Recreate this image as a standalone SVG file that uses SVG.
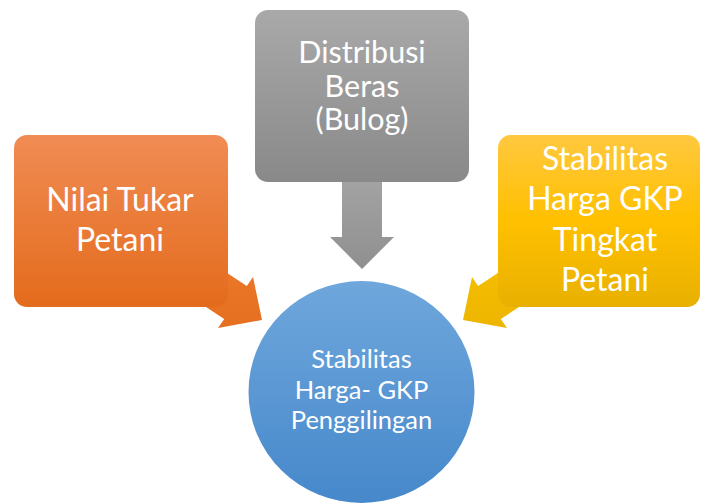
<svg xmlns="http://www.w3.org/2000/svg" width="701" height="504" viewBox="0 0 701 504">
<defs>
<linearGradient id="gO" x1="0" y1="0" x2="0" y2="1"><stop offset="0" stop-color="#F08C54"/><stop offset="1" stop-color="#E46B1C"/></linearGradient>
<linearGradient id="gG" x1="0" y1="0" x2="0" y2="1"><stop offset="0" stop-color="#A9A9A9"/><stop offset="1" stop-color="#898989"/></linearGradient>
<linearGradient id="gY" x1="0" y1="0" x2="0" y2="1"><stop offset="0" stop-color="#FFC83F"/><stop offset="0.5" stop-color="#FFC000"/><stop offset="1" stop-color="#E8B000"/></linearGradient>
<linearGradient id="gB" x1="0" y1="0" x2="0" y2="1"><stop offset="0" stop-color="#6FA7DC"/><stop offset="1" stop-color="#4688CB"/></linearGradient>
<linearGradient id="gOa" x1="0" y1="250" x2="0" y2="330" gradientUnits="userSpaceOnUse"><stop offset="0" stop-color="#EC792B"/><stop offset="1" stop-color="#E66F20"/></linearGradient>
<linearGradient id="gYa" x1="0" y1="250" x2="0" y2="330" gradientUnits="userSpaceOnUse"><stop offset="0" stop-color="#F7C000"/><stop offset="1" stop-color="#EDB500"/></linearGradient>
<linearGradient id="gGa" x1="0" y1="180" x2="0" y2="270" gradientUnits="userSpaceOnUse"><stop offset="0" stop-color="#A3A3A3"/><stop offset="1" stop-color="#8F8F8F"/></linearGradient>
</defs>
<style>
text{font-family:Lato,"Liberation Sans",sans-serif;fill:#FFFFFF;text-anchor:middle}
.big{font-size:32px}
.mid{font-size:30.5px}
.small{font-size:25.5px}
</style>
<g id="connectors">
<polygon id="arrow-orange" fill="url(#gOa)" points="196.8,253 246.8,286 253,277 262,320 218,328 224.2,319 174.2,286"/>
<polygon id="arrow-yellow" fill="url(#gYa)" points="528.2,253 478.2,286 472,277 463,320 507,328 500.8,319 550.8,286"/>
<polygon id="arrow-gray" fill="url(#gGa)" points="342,175 382,175 382,237 394,237 362,269 330,237 342,237"/>
</g>
<g id="node-nilai-tukar">
<rect x="14" y="135" width="214" height="172" rx="13" fill="url(#gO)"/>
<text class="big" x="120" y="211">Nilai Tukar</text>
<text class="big" x="120" y="251">Petani</text>
</g>
<g id="node-distribusi">
<rect x="255" y="10" width="214" height="172" rx="13" fill="url(#gG)"/>
<text class="mid" x="362" y="63">Distribusi</text>
<text class="mid" x="362" y="96.5">Beras</text>
<text class="mid" x="362" y="130">(Bulog)</text>
</g>
<g id="node-stabilitas-petani">
<rect x="498" y="135" width="202" height="172" rx="13" fill="url(#gY)"/>
<text class="big" x="605" y="170">Stabilitas</text>
<text class="big" x="605" y="210">Harga GKP</text>
<text class="big" x="605" y="251">Tingkat</text>
<text class="big" x="605" y="291">Petani</text>
</g>
<g id="node-penggilingan">
<ellipse cx="361.5" cy="392" rx="113" ry="111" fill="url(#gB)"/>
<text class="small" x="361.5" y="368">Stabilitas</text>
<text class="small" x="361.5" y="399">Harga- GKP</text>
<text class="small" x="361.5" y="429">Penggilingan</text>
</g>
</svg>
